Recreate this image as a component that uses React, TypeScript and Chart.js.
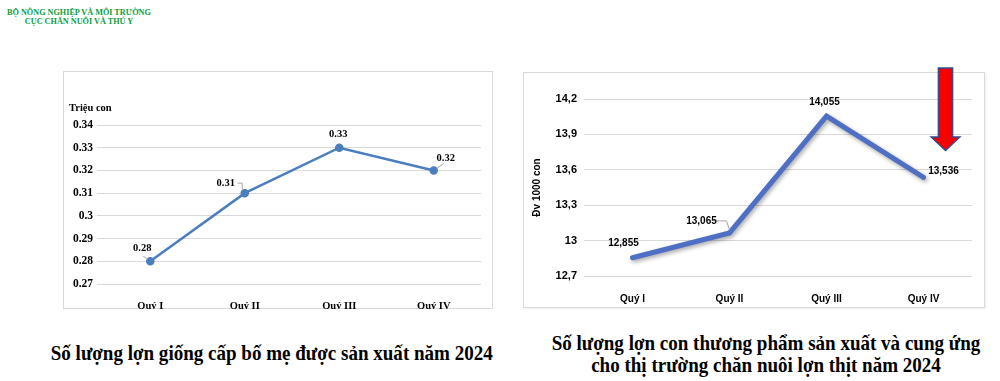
import React, { useEffect, useRef } from "react";
import { Chart, registerables } from "chart.js";

Chart.register(...registerables);

// ---------- DATA ----------
const quarters = ["Quý I", "Quý II", "Quý III", "Quý IV"];

// Left chart: Số lượng lợn giống cấp bố mẹ (triệu con)
const breedingValues = [0.28, 0.31, 0.33, 0.32];
const breedingValueLabels = ["0.28", "0.31", "0.33", "0.32"];
const breedingTicks = [0.27, 0.28, 0.29, 0.3, 0.31, 0.32, 0.33, 0.34];
const breedingTickLabels = ["0.27", "0.28", "0.29", "0.3", "0.31", "0.32", "0.33", "0.34"];

// Right chart: Số lượng lợn con thương phẩm (Đv 1000 con)
const pigletValues = [12.855, 13.065, 14.055, 13.536];
const pigletValueLabels = ["12,855", "13,065", "14,055", "13,536"];
const pigletTicks = [12.7, 13, 13.3, 13.6, 13.9, 14.2];
const pigletTickLabels = ["12,7", "13", "13,3", "13,6", "13,9", "14,2"];

// ---------- PLUGINS ----------
const pointLabelsPlugin = {
  id: "pointLabels",
  afterDatasetsDraw(chart: any, _args: any, opts: any) {
    const meta = chart.getDatasetMeta(0);
    const ctx = chart.ctx;
    ctx.save();
    meta.data.forEach((pt: any, i: number) => {
      const leader = opts.leaders && opts.leaders[i];
      if (leader) {
        ctx.strokeStyle = opts.leaderColor;
        ctx.lineWidth = 1;
        ctx.beginPath();
        leader.forEach((p: number[], j: number) => {
          if (j === 0) ctx.moveTo(pt.x + p[0], pt.y + p[1]);
          else ctx.lineTo(pt.x + p[0], pt.y + p[1]);
        });
        ctx.stroke();
      }
      const off = opts.offsets[i];
      ctx.font = opts.font;
      ctx.fillStyle = opts.color;
      ctx.textAlign = "center";
      ctx.textBaseline = "middle";
      ctx.fillText(opts.labels[i], pt.x + off[0], pt.y + off[1]);
    });
    ctx.restore();
  },
};

const unitLabelPlugin = {
  id: "unitLabel",
  afterDraw(chart: any, _args: any, opts: any) {
    if (!opts || !opts.text) return;
    const ctx = chart.ctx;
    ctx.save();
    ctx.font = opts.font;
    ctx.fillStyle = opts.color;
    ctx.textAlign = "left";
    ctx.textBaseline = "middle";
    ctx.fillText(opts.text, chart.chartArea.left + opts.dx, chart.chartArea.top + opts.dy);
    ctx.restore();
  },
};

const shadowPlugin = {
  id: "lineShadow",
  beforeDatasetsDraw(chart: any, _args: any, opts: any) {
    if (!opts || !opts.enabled) return;
    const ctx = chart.ctx;
    ctx.save();
    ctx.shadowColor = opts.color;
    ctx.shadowBlur = opts.blur;
    ctx.shadowOffsetX = opts.offsetX;
    ctx.shadowOffsetY = opts.offsetY;
  },
  afterDatasetsDraw(chart: any, _args: any, opts: any) {
    if (!opts || !opts.enabled) return;
    chart.ctx.restore();
  },
};

const arrowPlugin = {
  id: "downArrow",
  afterDraw(chart: any, _args: any, opts: any) {
    if (!opts || !opts.enabled) return;
    const ctx = chart.ctx;
    const cx = chart.scales.x.getPixelForValue(3) + opts.dx;
    const top = chart.chartArea.top;
    const y0 = top + opts.y0;
    const yh = top + opts.yHead;
    const yt = top + opts.yTip;
    const sw = opts.shaftHalf;
    const hw = opts.headHalf;
    ctx.save();
    ctx.beginPath();
    ctx.moveTo(cx - sw, y0);
    ctx.lineTo(cx + sw, y0);
    ctx.lineTo(cx + sw, yh);
    ctx.lineTo(cx + hw, yh);
    ctx.lineTo(cx, yt);
    ctx.lineTo(cx - hw, yh);
    ctx.lineTo(cx - sw, yh);
    ctx.closePath();
    const g = ctx.createLinearGradient(cx - hw, 0, cx + hw, 0);
    g.addColorStop(0, "#e00000");
    g.addColorStop(0.5, "#ff0000");
    g.addColorStop(1, "#e00000");
    ctx.fillStyle = g;
    ctx.fill();
    ctx.strokeStyle = "#2f4f8f";
    ctx.lineWidth = 1.3;
    ctx.stroke();
    ctx.restore();
  },
};

const serif = "'Liberation Serif', 'Times New Roman', serif";
const sans = "'Liberation Sans', Arial, sans-serif";

function LeftChart() {
  const ref = useRef<HTMLCanvasElement | null>(null);
  useEffect(() => {
    if (!ref.current) return;
    const chart = new Chart(ref.current, {
      type: "line",
      data: {
        labels: quarters,
        datasets: [
          {
            data: breedingValues,
            borderColor: "#4a7ebf",
            backgroundColor: "#4a7ebf",
            borderWidth: 2.5,
            pointRadius: 3,
            pointBackgroundColor: "#4a7ebf",
            pointBorderColor: "#4a7ebf",
            tension: 0,
          },
        ],
      },
      options: {
        animation: false,
        responsive: false,
        maintainAspectRatio: false,
        layout: { padding: { top: 54, left: 0, right: 12, bottom: 0 } },
        plugins: {
          legend: { display: false },
          tooltip: { enabled: false },
          pointLabels: {
            labels: breedingValueLabels,
            font: `bold 10.5px ${serif}`,
            color: "#000",
            leaderColor: "#a6a6a6",
            offsets: [
              [-8, -13],
              [-19, -10],
              [-1, -13],
              [12, -12],
            ],
            leaders: [
              [
                [-7, -5],
                [-2, -2],
              ],
              [
                [-7, -10],
                [-2.5, -10],
                [-2.5, -3],
              ],
              null,
              [
                [3, -2],
                [10, -7],
              ],
            ],
          },
          unitLabel: {
            text: "Triệu con",
            font: `bold 10.5px ${serif}`,
            color: "#000",
            dx: -34,
            dy: -17,
          },
        } as any,
        scales: {
          x: {
            offset: true,
            grid: { display: false },
            border: { display: false },
            ticks: {
              font: { family: serif, size: 10.5, weight: "bold" },
              color: "#000",
              padding: 8,
            },
            afterFit: (s: any) => {
              s.height = 25;
            },
          },
          y: {
            min: 0.27,
            max: 0.34,
            grid: { color: "#d9d9d9", lineWidth: 1, drawTicks: true, tickLength: 6 },
            border: { display: false },
            afterBuildTicks: (s: any) => {
              s.ticks = breedingTicks.map((v) => ({ value: v }));
            },
            ticks: {
              font: { family: serif, size: 11.5, weight: "bold" },
              color: "#000",
              padding: 4,
              callback: (_v: any, i: number) => breedingTickLabels[i],
            },
            afterFit: (s: any) => {
              s.width = 40;
            },
          },
        },
      } as any,
      plugins: [pointLabelsPlugin, unitLabelPlugin],
    });
    return () => chart.destroy();
  }, []);
  return <canvas ref={ref} width={430} height={238} style={{ position: "absolute", left: 63, top: 71, width: 430, height: 238 }} />;
}

function RightChart() {
  const ref = useRef<HTMLCanvasElement | null>(null);
  useEffect(() => {
    if (!ref.current) return;
    const chart = new Chart(ref.current, {
      type: "line",
      data: {
        labels: quarters,
        datasets: [
          {
            data: pigletValues,
            borderColor: "#4e6fc4",
            backgroundColor: "#4e6fc4",
            borderWidth: 5,
            pointRadius: 0,
            tension: 0,
            borderCapStyle: "round",
          },
        ],
      },
      options: {
        animation: false,
        responsive: false,
        maintainAspectRatio: false,
        layout: { padding: { top: 37, left: 8, right: 13, bottom: 0 } },
        plugins: {
          legend: { display: false },
          tooltip: { enabled: false },
          lineShadow: { enabled: true, color: "rgba(0,0,0,0.35)", blur: 4, offsetX: 1.5, offsetY: 2 },
          pointLabels: {
            labels: pigletValueLabels,
            font: `bold 10px ${sans}`,
            color: "#000",
            leaderColor: "#a6a6a6",
            offsets: [
              [-9, -14],
              [-28, -12],
              [-2, -14],
              [20, -6],
            ],
            leaders: [
              null,
              [
                [-16, -12],
                [-3, -12],
                [0, -3],
              ],
              null,
              null,
            ],
          },
          downArrow: { enabled: true, dx: 22, y0: -31, yHead: 38, yTip: 51.5, shaftHalf: 7.2, headHalf: 14.5 },
        } as any,
        scales: {
          x: {
            offset: true,
            grid: { display: false },
            border: { display: false },
            ticks: {
              font: { family: sans, size: 10, weight: "bold" },
              color: "#000",
              padding: 9,
            },
            afterFit: (s: any) => {
              s.height = 32;
            },
          },
          y: {
            min: 12.7,
            max: 14.2,
            grid: { color: "#d9d9d9", lineWidth: 1, drawTicks: false },
            border: { display: false },
            title: {
              display: true,
              text: "Đv 1000 con",
              font: { family: sans, size: 10, weight: "bold" },
              color: "#000",
              padding: 0,
            },
            afterBuildTicks: (s: any) => {
              s.ticks = pigletTicks.map((v) => ({ value: v }));
            },
            ticks: {
              font: { family: sans, size: 11, weight: "bold" },
              color: "#000",
              padding: 7,
              callback: (_v: any, i: number) => pigletTickLabels[i],
            },
            afterFit: (s: any) => {
              s.width = 53;
            },
          },
        },
      } as any,
      plugins: [shadowPlugin, pointLabelsPlugin, arrowPlugin],
    });
    return () => chart.destroy();
  }, []);
  return <canvas ref={ref} width={462} height={246} style={{ position: "absolute", left: 523, top: 62, width: 462, height: 246 }} />;
}

const captionStyle: React.CSSProperties = {
  position: "absolute",
  width: 500,
  textAlign: "center",
  fontFamily: serif,
  fontWeight: "bold",
  fontSize: 22,
  lineHeight: "22px",
  color: "#000",
  whiteSpace: "nowrap",
  transform: "scaleX(0.865)",
  transformOrigin: "center",
};

export default function App() {
  const green = "#0a9e3c";
  return (
    <div style={{ position: "absolute", left: 0, top: 0, width: 1000, height: 381, background: "#fff", overflow: "hidden" }}>
      <div
        style={{
          position: "absolute",
          left: 4,
          top: 8,
          width: 150,
          textAlign: "center",
          fontFamily: serif,
          fontWeight: "bold",
          fontSize: 8.2,
          lineHeight: "9px",
          color: green,
          whiteSpace: "nowrap",
        }}
      >
        <div>BỘ NÔNG NGHIỆP VÀ MÔI TRƯỜNG</div>
        <div>CỤC CHĂN NUÔI VÀ THÚ Y</div>
      </div>

      <div style={{ position: "absolute", left: 63, top: 71, width: 428, height: 236, border: "1px solid #d9d9d9" }} />
      <div style={{ position: "absolute", left: 523, top: 72, width: 460, height: 234, border: "1px solid #d9d9d9", boxShadow: "1px 1px 2px rgba(0,0,0,0.08)" }} />

      <LeftChart />
      <RightChart />

      <div style={{ ...captionStyle, left: 16.5, top: 342 }}>Số lượng lợn giống cấp bố mẹ được sản xuất năm 2024</div>
      <div style={{ ...captionStyle, left: 516, top: 332 }}>
        <div>Số lượng lợn con thương phẩm sản xuất và cung ứng</div>
        <div>cho thị trường chăn nuôi lợn thịt năm 2024</div>
      </div>
    </div>
  );
}
